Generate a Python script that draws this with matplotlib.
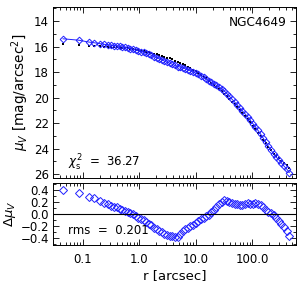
import numpy as np
import matplotlib
matplotlib.use("Agg")
import matplotlib.pyplot as plt
from matplotlib.ticker import FixedLocator, MultipleLocator, LogLocator, NullFormatter

plt.rcParams['font.family'] = ['DejaVu Sans']
plt.rcParams['mathtext.fontset'] = 'dejavusans'

# radius [arcsec]
r = np.array([0.045, 0.085, 0.13, 0.16, 0.20, 0.24, 0.28, 0.32, 0.36, 0.40,
              0.45, 0.50, 0.56, 0.63, 0.70, 0.78, 0.87, 0.97, 1.08, 1.20,
              1.33, 1.48, 1.65, 1.83, 2.03, 2.26, 2.50, 2.80, 3.10, 3.45,
              3.85, 4.30, 4.80, 5.30, 5.90, 6.60, 7.30, 8.10, 9.00, 10.0,
              11.1, 12.4, 13.8, 15.3, 17.0, 18.9, 21.0, 23.4, 26.0, 28.9,
              32.1, 35.7, 39.7, 44.1, 49.0, 54.5, 60.6, 67.4, 74.9, 83.3,
              92.6, 103, 114, 127, 141, 157, 175, 194, 216, 240,
              267, 297, 330, 367, 408, 454])

# observed surface brightness [mag/arcsec^2]
mu_obs = np.array([15.80, 15.86, 15.93, 15.96, 15.99, 16.01, 16.03, 16.04, 16.05, 16.06,
                   16.08, 16.10, 16.12, 16.15, 16.18, 16.21, 16.24, 16.27, 16.31, 16.35,
                   16.39, 16.44, 16.49, 16.55, 16.60, 16.66, 16.72, 16.79, 16.86, 16.93,
                   17.01, 17.10, 17.19, 17.27, 17.37, 17.48, 17.58, 17.69, 17.81, 17.93,
                   18.06, 18.20, 18.35, 18.50, 18.66, 18.82, 18.99, 19.16, 19.34, 19.52,
                   19.71, 19.90, 20.10, 20.31, 20.52, 20.74, 20.97, 21.20, 21.44, 21.69,
                   21.95, 22.21, 22.47, 22.74, 23.01, 23.29, 23.57, 23.85, 24.13, 24.41,
                   24.60, 24.75, 24.95, 25.15, 25.30, 25.50])

# residuals obs - model
dmu = np.array([0.41, 0.36, 0.28, 0.26, 0.22, 0.19, 0.16, 0.13, 0.12, 0.11,
                0.09, 0.07, 0.05, 0.03, 0.02, 0.00, -0.03, -0.06, -0.08, -0.10,
                -0.13, -0.16, -0.19, -0.23, -0.26, -0.29, -0.31, -0.34, -0.36, -0.37,
                -0.37, -0.38, -0.38, -0.33, -0.29, -0.26, -0.23, -0.20, -0.18, -0.15,
                -0.12, -0.09, -0.06, -0.03, -0.01, 0.03, 0.07, 0.12, 0.16, 0.20,
                0.23, 0.22, 0.20, 0.18, 0.17, 0.16, 0.15, 0.15, 0.17, 0.18,
                0.17, 0.17, 0.18, 0.17, 0.15, 0.11, 0.06, 0.04, 0.02, -0.01,
                -0.06, -0.12, -0.17, -0.22, -0.29, -0.37])

mu_mod = mu_obs - dmu

fig = plt.figure(figsize=(3.0, 2.85), dpi=100)
ax1 = fig.add_axes([0.177, 0.3754, 0.81, 0.60])
ax2 = fig.add_axes([0.177, 0.1404, 0.81, 0.2175])

blue = '#2020ff'

ax1.plot(r, mu_obs, 's', color='black', ms=2.0, mew=0)
ax1.plot(r, mu_mod, '-', color=blue, lw=0.7)
ax1.plot(r, mu_mod, 'D', mfc='none', mec=blue, ms=3.4, mew=0.7)
ax1.set_xscale('log')
ax1.set_xlim(0.03, 600)
ax1.set_ylim(26.3, 12.9)
ax1.yaxis.set_major_locator(MultipleLocator(2))
ax1.yaxis.set_minor_locator(MultipleLocator(1))
ax1.xaxis.set_major_formatter(NullFormatter())
ax1.xaxis.set_minor_formatter(NullFormatter())
ax1.set_ylabel(r'$\mu_V$ [mag/arcsec$^2$]', fontsize=9.8, labelpad=2)
ax1.text(0.96, 0.91, 'NGC4649', transform=ax1.transAxes, ha='right',
         va='center', fontsize=8.7)
ax1.text(0.06, 0.09, r'$\chi^2_{\rm s}$  =  36.27', transform=ax1.transAxes,
         ha='left', va='center', fontsize=8.5)

ax2.plot(r, dmu, 'D', mfc='none', mec=blue, ms=3.8, mew=0.7)
ax2.axhline(0, color='black', lw=0.8)
ax2.set_xscale('log')
ax2.set_xlim(0.03, 600)
ax2.set_ylim(-0.52, 0.52)
ax2.yaxis.set_major_locator(FixedLocator([-0.4, -0.2, 0.0, 0.2, 0.4]))
ax2.yaxis.set_minor_locator(MultipleLocator(0.1))
ax2.set_yticklabels(['\u22120.4', '\u22120.2', '0.0', '0.2', '0.4'])
ax2.xaxis.set_major_locator(FixedLocator([0.1, 1, 10, 100]))
ax2.set_xticklabels(['0.1', '1.0', '10.0', '100.0'])
ax2.set_ylabel(r'$\Delta\mu_V$', fontsize=9.5, labelpad=2)
ax2.set_xlabel('r [arcsec]', fontsize=9.5, labelpad=2)
ax2.text(0.06, 0.24, 'rms  =  0.201', transform=ax2.transAxes, ha='left',
         va='center', fontsize=8.5)

for ax in (ax1, ax2):
    ax.xaxis.set_minor_locator(LogLocator(base=10, subs=np.arange(2, 10)))
    ax.tick_params(which='both', direction='in', top=True, right=True,
                   labelsize=8.5, width=0.6)
    ax.tick_params(which='major', length=4)
    ax.tick_params(which='minor', length=2)
    for s in ax.spines.values():
        s.set_linewidth(0.7)
ax1.xaxis.set_major_locator(FixedLocator([0.1, 1, 10, 100]))
ax2.tick_params(axis='x', which='major', pad=6)
ax1.tick_params(axis='y', pad=3)
ax2.tick_params(axis='y', pad=3)

fig.savefig('out.png', dpi=100)
